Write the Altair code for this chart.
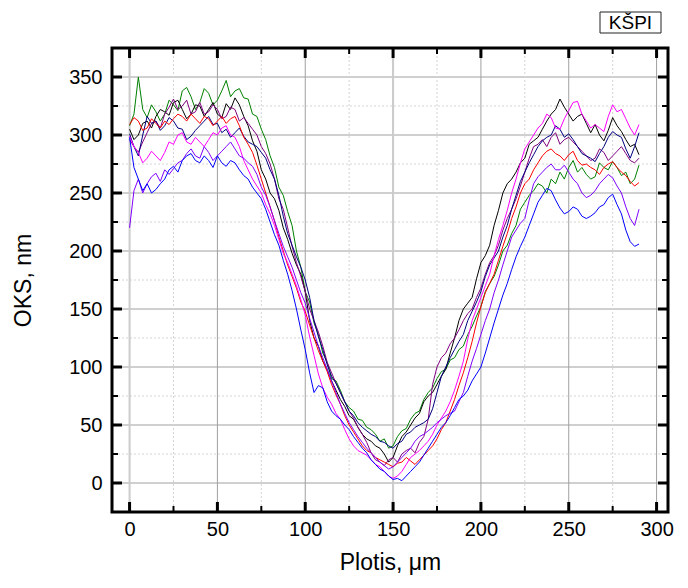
import altair as alt
import pandas as pd

# profiles sampled every 2.5 um (0 ... 290 um); each row below covers 25 um
green = [308, 318, 350, 322, 315, 326, 320, 312, 318, 330,
         326, 321, 338, 341, 333, 322, 328, 340, 336, 326,
         330, 338, 347, 333, 338, 340, 332, 331, 318, 316,
         305, 296, 282, 272, 255, 248, 234, 222, 200, 186,
         165, 156, 138, 128, 112, 104, 90, 88, 80, 70,
         65, 62, 55, 54, 48, 46, 42, 36, 38, 30,
         32, 40, 45, 47, 55, 60, 62, 72, 78, 82,
         90, 96, 98, 106, 108, 115, 118, 128, 135, 144,
         152, 165, 172, 178, 188, 200, 205, 215, 222, 236,
         242, 248, 252, 258, 256, 250, 262, 258, 268, 262,
         272, 278, 268, 272, 266, 262, 264, 276, 272, 270,
         277, 272, 265, 268, 258, 262, 274]
black = [305, 296, 300, 310, 312, 306, 316, 322, 320, 317,
         328, 330, 322, 314, 318, 326, 325, 316, 322, 328,
         318, 315, 327, 322, 332, 326, 316, 308, 295, 286,
         270, 262, 250, 245, 235, 220, 210, 198, 188, 180,
         165, 140, 125, 118, 105, 98, 88, 80, 72, 66,
         58, 55, 48, 42, 38, 36, 32, 30, 25, 18,
         22, 32, 40, 44, 50, 56, 60, 70, 75, 78,
         85, 92, 98, 112, 125, 140, 150, 155, 160, 176,
         190, 196, 205, 222, 235, 250, 258, 262, 268, 276,
         280, 292, 295, 298, 305, 312, 318, 322, 331, 324,
         318, 312, 316, 318, 310, 302, 309, 300, 295, 304,
         315, 308, 303, 296, 290, 292, 283]
purple = [296, 290, 285, 294, 302, 310, 312, 306, 318, 324,
          331, 322, 325, 330, 318, 320, 328, 318, 320, 326,
          322, 314, 316, 324, 322, 312, 315, 310, 305, 300,
          290, 284, 275, 262, 245, 236, 220, 204, 190, 178,
          165, 150, 140, 130, 118, 104, 95, 86, 78, 70,
          62, 56, 48, 42, 35, 26, 20, 18, 15, 20,
          22, 18, 25, 28, 30, 26, 35, 40, 55, 85,
          100, 108, 112, 120, 125, 132, 140, 146, 150, 160,
          168, 180, 190, 196, 205, 218, 228, 236, 245, 256,
          268, 280, 290, 292, 296, 290, 298, 302, 292, 296,
          298, 294, 290, 286, 282, 278, 280, 288, 285, 278,
          282, 286, 290, 284, 278, 276, 280]
navy = [301, 290, 282, 300, 316, 310, 312, 304, 308, 315,
        312, 306, 305, 296, 299, 304, 308, 312, 316, 309,
        310, 302, 305, 298, 302, 306, 299, 294, 292, 290,
        285, 280, 270, 262, 248, 230, 215, 205, 195, 186,
        175, 160, 140, 126, 115, 102, 92, 86, 78, 70,
        62, 58, 52, 48, 45, 42, 40, 36, 35, 32,
        30, 34, 36, 42, 44, 48, 50, 52, 55, 64,
        78, 92, 100, 108, 115, 122, 128, 140, 148, 156,
        165, 178, 188, 194, 200, 212, 222, 236, 248, 260,
        268, 276, 283, 290, 295, 298, 300, 308, 305, 298,
        301, 296, 290, 284, 282, 280, 277, 284, 290, 298,
        303, 300, 298, 288, 280, 290, 302]
red = [309, 315, 312, 304, 306, 314, 310, 306, 312, 309,
       314, 318, 316, 312, 318, 314, 310, 316, 314, 308,
       312, 316, 310, 314, 316, 308, 298, 292, 285, 274,
       262, 250, 238, 226, 212, 200, 188, 178, 168, 156,
       148, 136, 125, 114, 105, 96, 85, 76, 68, 58,
       50, 44, 38, 32, 28, 26, 22, 20, 18, 16,
       14, 17, 18, 22, 19, 16, 20, 24, 28, 32,
       38, 46, 52, 62, 72, 84, 95, 108, 122, 138,
       152, 164, 172, 180, 192, 204, 215, 228, 238, 250,
       258, 262, 270, 276, 282, 286, 288, 284, 282, 278,
       283, 286, 278, 274, 275, 272, 270, 266, 272, 275,
       277, 272, 268, 265, 260, 256, 259]
magenta = [299, 290, 285, 276, 280, 286, 282, 278, 285, 294,
           292, 300, 302, 294, 292, 298, 294, 290, 296, 302,
           300, 306, 308, 300, 298, 290, 278, 270, 262, 256,
           250, 240, 232, 222, 210, 198, 190, 180, 170, 158,
           145, 126, 110, 94, 82, 74, 68, 60, 55, 46,
           38, 32, 28, 26, 24, 20, 16, 14, 10, 6,
           4, 6, 10, 16, 22, 25, 28, 32, 36, 42,
           50, 56, 62, 70, 80, 92, 105, 124, 140, 150,
           160, 170, 180, 196, 210, 222, 235, 250, 262, 276,
           288, 294, 300, 306, 310, 318, 315, 306, 305, 314,
           321, 328, 329, 318, 312, 306, 309, 306, 303, 316,
           326, 320, 322, 314, 306, 300, 309]
violet = [220, 252, 262, 250, 258, 264, 267, 260, 270, 266,
          271, 276, 278, 284, 288, 282, 280, 290, 285, 278,
          282, 286, 290, 294, 288, 282, 280, 276, 273, 266,
          255, 248, 238, 226, 215, 204, 195, 186, 175, 164,
          155, 142, 130, 118, 108, 98, 88, 78, 68, 60,
          52, 46, 40, 35, 30, 26, 22, 18, 15, 12,
          14, 18, 22, 26, 30, 36, 40, 42, 45, 48,
          52, 55, 58, 60, 62, 70, 78, 92, 105, 116,
          128, 140, 150, 164, 175, 188, 200, 212, 218, 224,
          228, 244, 258, 264, 268, 272, 275, 270, 270, 274,
          268, 262, 258, 250, 246, 248, 252, 258, 262, 266,
          263, 256, 250, 238, 228, 222, 236]
blue = [298, 272, 262, 252, 258, 250, 253, 258, 262, 270,
        273, 268, 278, 282, 284, 278, 276, 282, 278, 272,
        282, 276, 273, 278, 276, 270, 265, 262, 255, 250,
        245, 236, 225, 214, 205, 192, 180, 166, 150, 132,
        115, 95, 78, 84, 82, 70, 62, 58, 55, 50,
        46, 40, 35, 30, 26, 20, 16, 12, 10, 6,
        3, 4, 2, 6, 10, 14, 18, 24, 30, 36,
        42, 48, 52, 58, 65, 72, 75, 80, 88, 94,
        100, 112, 125, 138, 150, 162, 172, 184, 195, 204,
        212, 222, 232, 242, 248, 254, 252, 244, 237, 232,
        234, 238, 236, 230, 228, 230, 233, 238, 240, 246,
        249, 240, 232, 218, 208, 204, 206]

series_names = ["green", "black", "purple", "navy", "red", "magenta", "violet", "blue"]
series_values = [green, black, purple, navy, red, magenta, violet, blue]
series_colors = ["#008000", "#000000", "#800080", "#000080", "#ff0000", "#ff00ff", "#8000ff", "#0000ff"]

x_major = [0, 50, 100, 150, 200, 250, 300]
x_minor = [25, 75, 125, 175, 225, 275]
y_major = [0, 50, 100, 150, 200, 250, 300, 350]
y_minor = [25, 75, 125, 175, 225, 275, 325]

rows = []
for name, vals in zip(series_names, series_values):
    for i, yv in enumerate(vals):
        rows.append({"series": name, "x": 2.5 * i, "y": yv})
df = pd.DataFrame(rows)

W, H = 556, 464
X0, X1 = -10, 306.5
Y0, Y1 = -25, 375
FONT = "Liberation Sans"
xs = alt.Scale(domain=[X0, X1], nice=False, zero=False)
ys = alt.Scale(domain=[Y0, Y1], nice=False, zero=False)

x_axis = alt.Axis(
    values=x_major, title="Plotis, μm", grid=False, ticks=False, domain=False,
    labelFontSize=20, labelPadding=7, labelFont=FONT, labelColor="black",
    titleFontSize=23, titleFont=FONT, titleFontWeight="normal", titleColor="black",
    titlePadding=12)
y_axis = alt.Axis(
    values=y_major, title="OKS, nm", grid=False, ticks=False, domain=False,
    labelFontSize=20, labelPadding=10, labelFont=FONT, labelColor="black",
    titleFontSize=23, titleFont=FONT, titleFontWeight="normal", titleColor="black",
    titlePadding=33)

dxmaj = pd.DataFrame({"v": x_major})
dxmin = pd.DataFrame({"v": x_minor})
dymaj = pd.DataFrame({"v": y_major})
dymin = pd.DataFrame({"v": y_minor})

# the two major-grid layers carry the axes; every other layer has axis=None
grid_xmaj = alt.Chart(dxmaj).mark_rule(color="#a0a0a0", strokeWidth=1).encode(
    x=alt.X("v:Q", scale=xs, axis=x_axis))
grid_ymaj = alt.Chart(dymaj).mark_rule(color="#a0a0a0", strokeWidth=1).encode(
    y=alt.Y("v:Q", scale=ys, axis=y_axis))
grid_xmin = alt.Chart(dxmin).mark_rule(color="#d4d4d4", strokeWidth=1, strokeDash=[2, 2]).encode(
    x=alt.X("v:Q", scale=xs, axis=None))
grid_ymin = alt.Chart(dymin).mark_rule(color="#d4d4d4", strokeWidth=1, strokeDash=[2, 2]).encode(
    y=alt.Y("v:Q", scale=ys, axis=None))
grid_light = alt.Chart(pd.DataFrame({"v": [0, 150]})).mark_rule(color="#cccccc", strokeWidth=2).encode(
    x=alt.X("v:Q", scale=xs, axis=None))

lines = alt.Chart(df).mark_line(strokeWidth=1, clip=True).encode(
    x=alt.X("x:Q", scale=xs, axis=None),
    y=alt.Y("y:Q", scale=ys, axis=None),
    color=alt.Color("series:N", scale=alt.Scale(domain=series_names, range=series_colors), legend=None),
    detail="series:N",
)

def xticks(d, length, width):
    b = alt.Chart(d).mark_rule(color="black", strokeWidth=width).encode(
        x=alt.X("v:Q", scale=xs, axis=None), y=alt.value(H), y2=alt.value(H - length))
    t = alt.Chart(d).mark_rule(color="black", strokeWidth=width).encode(
        x=alt.X("v:Q", scale=xs, axis=None), y=alt.value(0), y2=alt.value(length))
    return [b, t]

def yticks(d, length, width):
    l = alt.Chart(d).mark_rule(color="black", strokeWidth=width).encode(
        y=alt.Y("v:Q", scale=ys, axis=None), x=alt.value(0), x2=alt.value(length))
    r = alt.Chart(d).mark_rule(color="black", strokeWidth=width).encode(
        y=alt.Y("v:Q", scale=ys, axis=None), x=alt.value(W), x2=alt.value(W - length))
    return [l, r]

one = pd.DataFrame({"label": ["KŠPI"]})
box = alt.Chart(one).mark_rect(fill="white", stroke="#222222", strokeWidth=1).encode(
    x=alt.value(488), x2=alt.value(549), y=alt.value(-36), y2=alt.value(-15))
box_text = alt.Chart(one).mark_text(fontSize=19, font=FONT, color="black", align="center", baseline="middle").encode(
    text="label:N", x=alt.value(518.5), y=alt.value(-25))

layers = [grid_xmaj, grid_ymaj, grid_xmin, grid_ymin, grid_light, lines]
layers += xticks(dxmaj, 10, 3) + xticks(dxmin, 6, 2) + yticks(dymaj, 10, 3) + yticks(dymin, 6, 2)
layers += [box, box_text]

chart = alt.layer(*layers).resolve_axis(
    x="independent", y="independent"
).properties(
    width=W, height=H,
    autosize=alt.AutoSizeParams(type="none"),
    padding={"left": 104, "top": 40, "right": 12, "bottom": 66},
).configure(background="white").configure_view(stroke="black", strokeWidth=3)

chart.save("out.html", embed_options={"renderer": "svg", "actions": False})
